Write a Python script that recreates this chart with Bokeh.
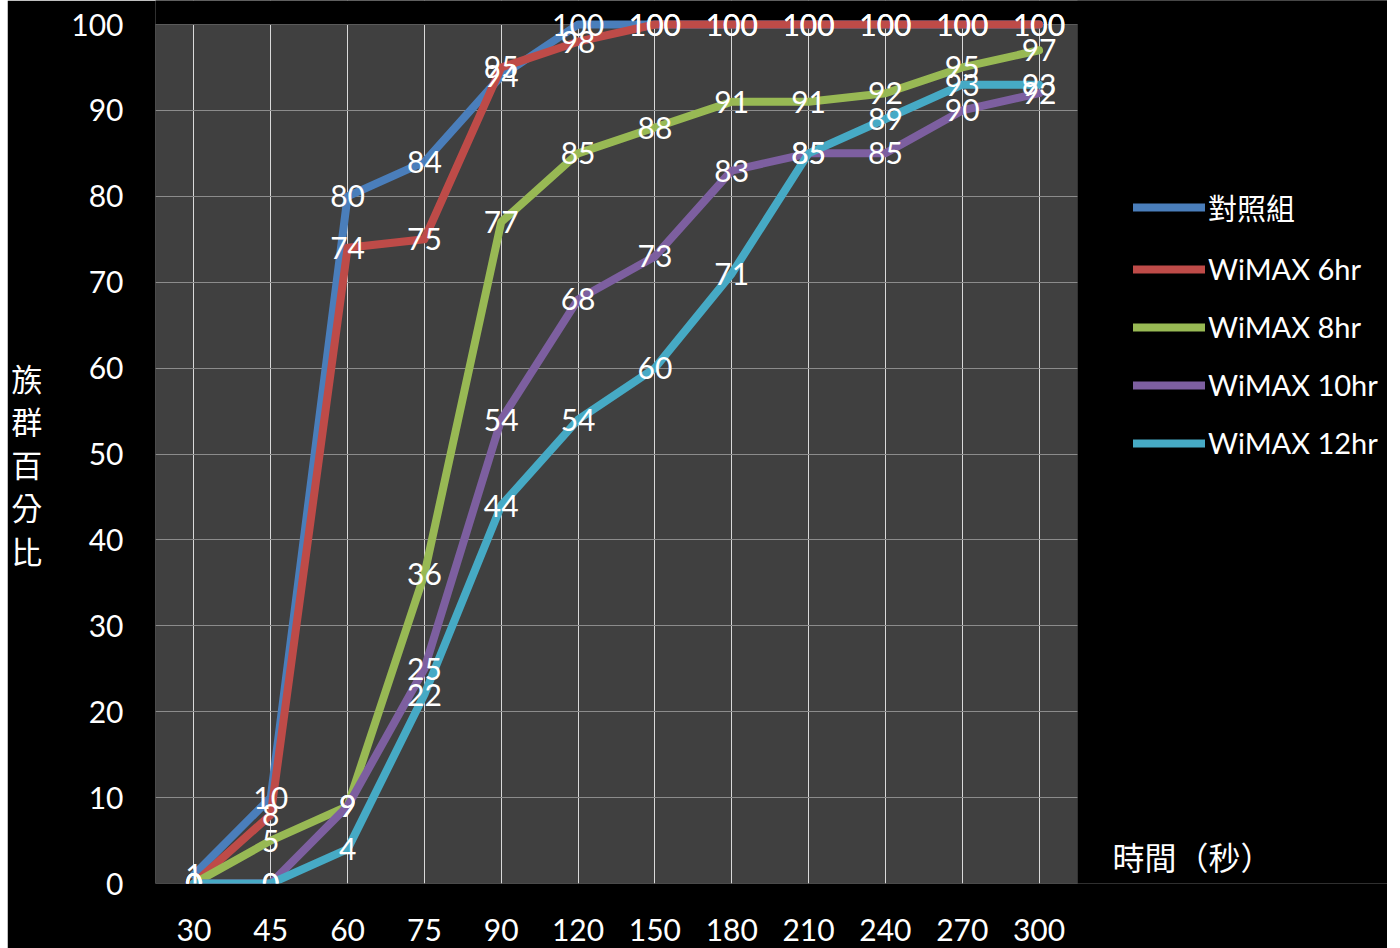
from bokeh.plotting import figure
from bokeh.models import (Range1d, FixedTicker, Legend, LegendItem, Label,
                          ColumnDataSource, Spacer, BoxAnnotation)
from bokeh.layouts import row
from bokeh.core.properties import value
from bokeh.embed import file_html
from bokeh.resources import INLINE

categories = ["30", "45", "60", "75", "90", "120", "150", "180", "210", "240", "270", "300"]
series_names = ["對照組", "WiMAX 6hr", "WiMAX 8hr", "WiMAX 10hr", "WiMAX 12hr"]
control = [1, 10, 80, 84, 94, 100, 100, 100, 100, 100, 100, 100]
wimax6 = [0, 8, 74, 75, 95, 98, 100, 100, 100, 100, 100, 100]
wimax8 = [0, 5, 9, 36, 77, 85, 88, 91, 91, 92, 95, 97]
wimax10 = [0, 0, 9, 25, 54, 68, 73, 83, 85, 85, 90, 92]
wimax12 = [0, 0, 4, 22, 44, 54, 60, 71, 85, 89, 93, 93]
y_ticks = [0, 10, 20, 30, 40, 50, 60, 70, 80, 90, 100]
y_title = "族群百分比"
x_title = "時間（秒）"

colors = ["#4A7EBB", "#BE4B48", "#98B954", "#7D5FA0", "#46AAC5"]
all_series = [control, wimax6, wimax8, wimax10, wimax12]

FONT = "Lato, 'Noto Sans CJK TC'"
CJK = "'Noto Sans CJK TC'"

# category slots 1..N on a numeric axis; plot area spans slots 0.5 .. N+0.5
xpos = list(range(1, len(categories) + 1))
x_lo, x_hi = 0.5, len(categories) + 0.5
y_lo, y_hi = y_ticks[0], y_ticks[-1]

p = figure(width=1380, height=948, x_range=Range1d(x_lo, 16.535),
           y_range=Range1d(y_lo, 102.794), output_backend="svg",
           toolbar_location=None, min_border_left=148, min_border_right=0,
           min_border_top=0, min_border_bottom=65)
p.background_fill_color = "#000000"
p.border_fill_color = "#000000"
p.outline_line_color = None

# plot area
p.add_layout(BoxAnnotation(left=x_lo, right=x_hi, bottom=y_lo, top=y_hi,
                           fill_color="#404040", fill_alpha=1, line_color=None,
                           level="image"))

xt = FixedTicker(ticks=xpos)
yt = FixedTicker(ticks=y_ticks)
p.xaxis.ticker = xt
p.yaxis.ticker = yt
p.xgrid.ticker = xt
p.ygrid.ticker = yt
p.xaxis.major_label_overrides = {x: c for x, c in zip(xpos, categories)}
p.xgrid.grid_line_color = "#d9d9d9"
p.xgrid.grid_line_width = 1
p.ygrid.grid_line_color = "#8c8c8c"
p.ygrid.grid_line_width = 1

# mask grid lines outside the plot area
p.add_layout(BoxAnnotation(bottom=y_hi, fill_color="#000000", fill_alpha=1,
                           line_color=None, level="underlay"))
p.add_layout(BoxAnnotation(left=x_hi, fill_color="#000000", fill_alpha=1,
                           line_color=None, level="underlay"))
p.add_layout(BoxAnnotation(left=x_lo, right=x_hi, bottom=y_lo, top=y_hi,
                           fill_alpha=0, line_color="#8c8c8c", line_width=1,
                           level="underlay"))

for ax in (p.xaxis[0], p.yaxis[0]):
    ax.axis_line_color = None
    ax.major_tick_line_color = None
    ax.minor_tick_line_color = None
    ax.major_tick_out = 0
    ax.major_tick_in = 0
    ax.major_label_text_color = "white"
    ax.major_label_text_font = FONT
    ax.major_label_text_font_size = "30px"
p.yaxis.major_label_standoff = 32
p.xaxis.major_label_standoff = 35

p.yaxis.axis_label = "\n" + "\n".join(y_title)
p.yaxis.axis_label_orientation = "horizontal"
p.yaxis.axis_label_text_color = "white"
p.yaxis.axis_label_text_font = CJK
p.yaxis.axis_label_text_font_size = "31px"
p.yaxis.axis_label_text_font_style = "normal"
p.yaxis.axis_label_text_line_height = 0.96
p.yaxis.axis_label_standoff = 26

renderers = []
for name, vals, col in zip(series_names, all_series, colors):
    src = ColumnDataSource(dict(x=xpos, y=vals))
    r = p.line("x", "y", source=src, line_color=col, line_width=8,
               line_join="round", line_cap="round")
    renderers.append((name, r))

for vals in all_series:
    src = ColumnDataSource(dict(x=xpos, y=vals, t=[str(v) for v in vals]))
    p.text("x", "y", text="t", source=src, text_color="white",
           text_font=value(FONT), text_font_size="30px",
           text_align="center", text_baseline="middle")

legend = Legend(items=[LegendItem(label=n, renderers=[r]) for n, r in renderers],
                location=(978, 423), orientation="vertical",
                background_fill_alpha=0, border_line_color=None,
                padding=0, margin=0, spacing=23, glyph_width=72,
                glyph_height=30, label_height=30, label_standoff=3,
                label_text_color="white", label_text_font=FONT,
                label_text_font_size="29px", label_text_baseline="middle")
p.add_layout(legend)

p.add_layout(Label(x=957, y=28, x_units="screen", y_units="screen", text=x_title,
                   text_color="white", text_font=CJK, text_font_size="32px",
                   text_align="left", text_baseline="middle"))

layout = row(Spacer(width=7, height=948), p)
open("out.html", "w").write(file_html(layout, INLINE))
